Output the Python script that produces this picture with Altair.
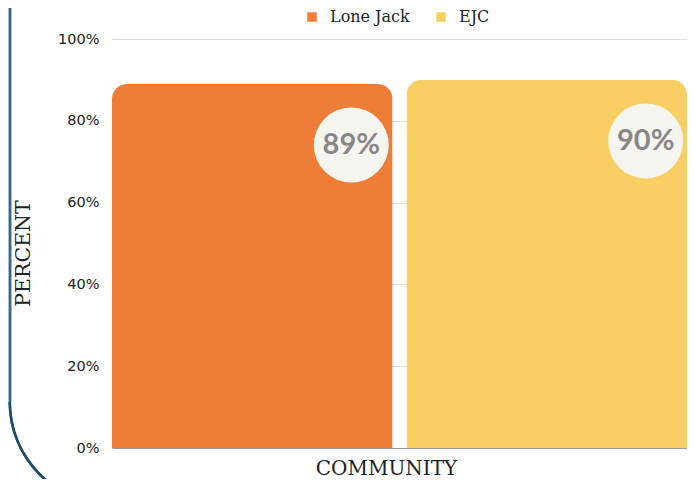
import altair as alt
import pandas as pd

communities = ["Lone Jack", "EJC"]
percents = [89, 90]
labels = ["89%", "90%"]
colors = ["#EE7D37", "#F9CF63"]
y_ticks = [0, 20, 40, 60, 80, 100]

df = pd.DataFrame({"community": communities, "percent": percents, "label": labels})

x_enc = alt.X(
    "community:N",
    sort=communities,
    scale=alt.Scale(paddingInner=0.047, paddingOuter=0),
    axis=alt.Axis(
        labels=False, ticks=False, title="COMMUNITY", domainColor="#999999",
        titleFont="DejaVu Serif", titleFontSize=20, titleFontWeight="normal",
        titleColor="#222222", titleBaseline="alphabetic", titlePadding=26,
        titleX=274,
    ),
)
y_enc = alt.Y(
    "percent:Q",
    scale=alt.Scale(domain=[0, 100]),
    axis=alt.Axis(
        values=y_ticks, labelExpr="datum.value + '%'", title="PERCENT",
        ticks=False, domain=False, gridColor="#DDDDDD", labelPadding=13,
        labelFont="DejaVu Sans", labelFontSize=14.5, labelColor="#222222",
        titleFont="DejaVu Serif", titleFontSize=20.5, titleFontWeight="normal",
        titleColor="#222222", titlePadding=24, titleY=214,
    ),
)

base = alt.Chart(df)

bars = base.mark_bar(cornerRadiusTopLeft=15, cornerRadiusTopRight=15).encode(
    x=x_enc,
    y=y_enc,
    color=alt.Color(
        "community:N",
        sort=communities,
        scale=alt.Scale(domain=communities, range=colors),
        legend=alt.Legend(
            orient="none", legendX=192, legendY=-30, direction="horizontal",
            title=None, symbolType="square", symbolSize=90, symbolStrokeWidth=0,
            labelFont="DejaVu Serif", labelFontSize=16, labelColor="#222222",
            columnPadding=23, labelOffset=10, padding=0,
        ),
    ),
)

circles = base.mark_point(
    filled=True, shape="circle", size=5625, color="#F5F5F0", opacity=1,
    xOffset=99, yOffset=61,
).encode(x=x_enc, y=y_enc)

texts = base.mark_text(
    font="Lato", fontWeight="bold", fontSize=29, color="#888888",
    xOffset=99, yOffset=61, align="center", baseline="middle",
).encode(x=x_enc, y=y_enc, text="label:N")

frame_line = base.mark_rule(color="#3D6885", strokeWidth=2.5).encode(
    x=alt.value(-102), y=alt.value(-31), y2=alt.value(363)
)
frame_arc = base.mark_arc(
    color="#1D4D69", radius=103.5, radius2=101, theta=3.14159, theta2=4.71239,
).encode(x=alt.value(0), y=alt.value(363))

chart = alt.layer(bars, circles, texts, frame_line, frame_arc).properties(
    width=575, height=409,
    autosize=alt.AutoSizeParams(type="none"),
    padding={"left": 104, "top": 31, "right": 0, "bottom": 31},
    background="white",
).configure_view(stroke=None)

chart.save("out.html", embed_options={"renderer": "svg", "actions": False})
